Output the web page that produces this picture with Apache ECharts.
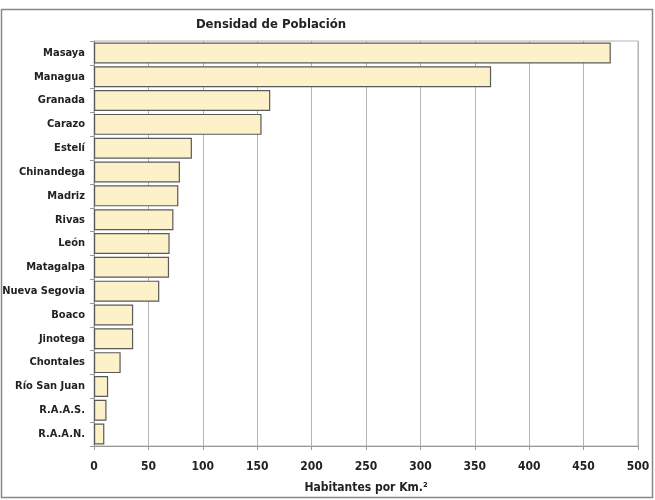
<!DOCTYPE html>
<html><head><meta charset="utf-8">
<script src="https://cdn.jsdelivr.net/npm/echarts@6/dist/echarts.min.js"></script>
<style>html,body{margin:0;padding:0;background:#fff}#c{width:655px;height:500px}</style>
</head><body><div id="c"></div>
<script>
const categories = ["Masaya","Managua","Granada","Carazo","Estelí","Chinandega","Madriz","Rivas","León","Matagalpa","Nueva Segovia","Boaco","Jinotega","Chontales","Río San Juan","R.A.A.S.","R.A.A.N."];
const density = [475,365,162,154,90,79,77.5,73,69.5,69,60,36,36,24.5,13,11.5,9.5];
const xTicks = [0,50,100,150,200,250,300,350,400,450,500];

const FONT = '"DejaVu Sans Condensed","Liberation Sans",Arial,sans-serif';
const chart = echarts.init(document.getElementById('c'));
chart.setOption({
  animation:false,
  backgroundColor:'#fff',
  title:{text:'Densidad de Población',left:266,top:13,textAlign:'center',
    textStyle:{fontFamily:FONT,fontSize:13,fontWeight:'bold',color:'#222'}},
  grid:{left:94,right:17,top:41,bottom:54,show:true,borderColor:'#b5b5b5',borderWidth:1,
    containLabel:false,outerBoundsMode:'none'},
  xAxis:{type:'value',min:xTicks[0],max:xTicks[xTicks.length-1],interval:50,
    name:'Habitantes por Km.²',nameLocation:'middle',nameGap:36,
    nameTextStyle:{fontFamily:FONT,fontSize:12,fontWeight:'bold',color:'#222'},
    axisLine:{show:true,lineStyle:{color:'#999'}},
    axisTick:{show:true,length:4,lineStyle:{color:'#999'}},
    axisLabel:{fontFamily:FONT,fontSize:12,fontWeight:'bold',color:'#222',margin:15},
    splitLine:{show:true,lineStyle:{color:'#b5b5b5',width:1}}},
  yAxis:{type:'category',data:categories,inverse:true,
    axisLine:{show:true,lineStyle:{color:'#999'}},
    axisTick:{show:true,length:4,lineStyle:{color:'#999'}},
    axisLabel:{fontFamily:FONT,fontSize:11,fontWeight:'bold',color:'#222',margin:9},
    splitLine:{show:false}},
  series:[{type:'bar',data:density,barCategoryGap:'12%',
    itemStyle:{color:'#fcf1c8',borderColor:'#5a5a5a',borderWidth:1.2}}],
  graphic:[{type:'rect',shape:{x:1.5,y:9.5,width:651,height:488},
    style:{fill:null,stroke:'#888',lineWidth:1.5},silent:true}]
});
</script></body></html>
